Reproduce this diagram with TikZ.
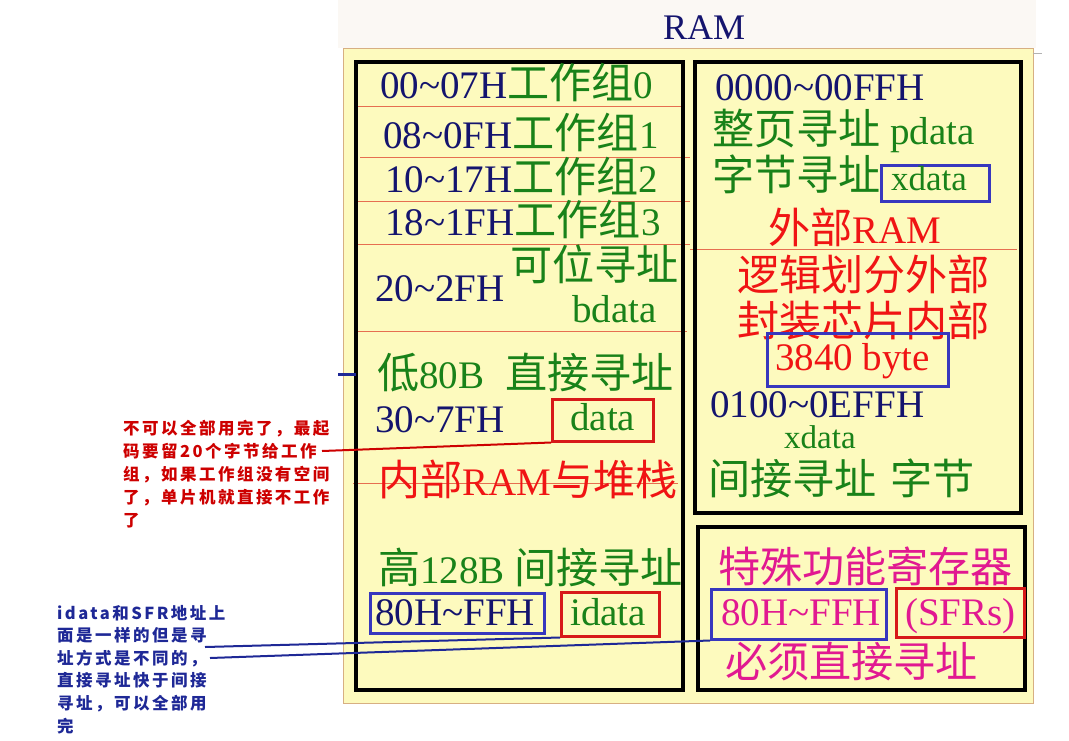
\documentclass[tikz,border=0pt]{standalone}
\usepackage{fontspec}
\setmainfont{Liberation Serif}
\newfontfamily\cjk[Scale=1.08]{Noto Sans CJK SC}
\newfontfamily\annofont[LetterSpace=15]{Noto Sans CJK SC}
\newcommand\zh[1]{{\cjk #1}}
\newcommand\tl{\textasciitilde}
\definecolor{navy}{RGB}{20,20,110}
\definecolor{grn}{RGB}{25,130,25}
\definecolor{rd}{RGB}{240,20,20}
\definecolor{mag}{RGB}{225,25,145}
\definecolor{bboxc}{RGB}{55,55,190}
\definecolor{rboxc}{RGB}{215,25,25}
\definecolor{ylw}{RGB}{253,250,190}
\definecolor{brd}{RGB}{215,175,130}
\definecolor{orl}{RGB}{230,110,80}
\definecolor{annr}{RGB}{205,0,0}
\definecolor{annb}{RGB}{30,40,150}
\definecolor{topbg}{RGB}{251,248,244}
\tikzset{
  t/.style={inner sep=0pt, anchor=base west, font=\fontsize{39}{39}\selectfont},
  blk/.style={draw=black, line width=3.5pt},
  sepline/.style={draw=orl, line width=1pt},
  bx/.style={draw, line width=2.5pt, inner sep=0pt, anchor=north west},
  an/.style={inner sep=0pt, anchor=base west, font=\annofont\fontsize{16.5}{16.5}\bfseries\selectfont},
  conn/.style={line width=2pt}
}
\begin{document}
\begin{tikzpicture}[x=1pt,y=-1pt]
\useasboundingbox (0,0) rectangle (1069,740);
\fill[topbg] (338,0) rectangle (1036,48);
\filldraw[fill=ylw, draw=brd, line width=1pt] (343,48) rectangle (1033,703);
\draw[gray!60, line width=1pt] (1033,53) -- (1042,53);
% separator lines
\draw[sepline] (356,106) -- (683,106);
\draw[sepline] (360,157) -- (690,157);
\draw[sepline] (356,201) -- (690,201);
\draw[sepline] (356,244) -- (690,244);
\draw[sepline] (356,331) -- (687,331);
\draw[sepline] (353,483) -- (678,483);
\draw[sepline] (690,249) -- (1017,249);
% black boxes
\draw[blk] (356,62) rectangle (683,690);
\draw[blk] (695,62) rectangle (1021,513);
\draw[blk] (698,527) rectangle (1025,690);
% blue tick
\draw[annb, line width=3pt] (338,374) -- (356,374);
% title
\node[t, text=navy, font=\fontsize{36}{36}\selectfont] (title) at (663,39) {RAM};
% left box texts
\node[t, text=navy] (r0) at (380,98) {00\tl07H{\color{grn}\zh{工作组}0}};
\node[t, text=navy] (r1) at (383,148) {08\tl0FH{\color{grn}\zh{工作组}1}};
\node[t, text=navy] (r2) at (385,192) {10\tl17H{\color{grn}\zh{工作组}2}};
\node[t, text=navy] (r3) at (385,235) {18\tl1FH{\color{grn}\zh{工作组}3}};
\node[t, text=grn] (kw) at (510,280) {\zh{可位寻址}};
\node[t, text=navy] (r4) at (375,301) {20\tl2FH};
\node[t, text=grn] (bd) at (572,322) {bdata};
\node[t, text=grn] (low) at (377,388) {\zh{低}80B\hspace{21pt}\zh{直接寻址}};
\node[t, text=navy] (r5) at (375,432) {30\tl7FH};
\node[bx, draw=rboxc, minimum width=101pt, minimum height=42pt] (dbox) at (551,398) {};
\node[t, text=grn] (dtxt) at (570,430) {data};
\node[t, text=rd] (inram) at (378,495) {\zh{内部}RAM\zh{与堆栈}};
\node[t, text=grn] (high) at (378,583) {\zh{高}128B \zh{间接寻址}};
\node[bx, draw=bboxc, minimum width=174pt, minimum height=40pt] (hbox) at (369,592) {};
\node[t, text=navy] (htxt) at (375,625) {80H\tl FFH};
\node[bx, draw=rboxc, minimum width=98pt, minimum height=44pt] (ibox) at (560,591) {};
\node[t, text=grn] (itxt) at (570,625) {idata};
% right top box texts
\node[t, text=navy] (x0) at (715,100) {0000\tl00FFH};
\node[t, text=grn] (x1) at (712,144) {\zh{整页寻址} pdata};
\node[t, text=grn] (x2) at (712,190) {\zh{字节寻址}};
\node[bx, draw=bboxc, minimum width=108pt, minimum height=36pt] (xbox) at (880,164) {};
\node[t, text=grn, font=\fontsize{35}{35}\selectfont] (xtxt) at (891,190) {xdata};
\node[t, text=rd] (ext) at (768,243) {\zh{外部}RAM};
\node[t, text=rd] (lg1) at (737,290) {\zh{逻辑划分外部}};
\node[t, text=rd] (lg2) at (737,336) {\zh{封装芯片内部}};
\node[bx, draw=bboxc, minimum width=181pt, minimum height=53pt] (bbox) at (766,332) {};
\node[t, text=rd] (btxt) at (775,370) {3840 byte};
\node[t, text=navy] (x3) at (710,417) {0100\tl0EFFH};
\node[t, text=grn, font=\fontsize{33}{33}\selectfont] (x4) at (784,448) {xdata};
\node[t, text=grn] (x5) at (708,494) {\zh{间接寻址}\hspace{14pt}\zh{字节}};
% right bottom box texts
\node[t, text=mag] (s0) at (718,582) {\zh{特殊功能寄存器}};
\node[bx, draw=bboxc, minimum width=175pt, minimum height=50pt] (sbox) at (710,588) {};
\node[t, text=mag] (stxt) at (721,625) {80H\tl FFH};
\node[bx, draw=rboxc, minimum width=128pt, minimum height=49pt] (fbox) at (895,587) {};
\node[t, text=mag] (ftxt) at (905,625) {(SFRs)};
\node[t, text=mag] (s1) at (725,677) {\zh{必须直接寻址}};
% red annotation
\node[an, text=annr] (ra1) at (123,434) {不可以全部用完了，最起};
\node[an, text=annr] (ra2) at (123,457) {码要留20个字节给工作};
\node[an, text=annr] (ra3) at (123,480) {组，如果工作组没有空间};
\node[an, text=annr] (ra4) at (123,503) {了，单片机就直接不工作};
\node[an, text=annr] (ra5) at (123,526) {了};
% blue annotation
\node[an, text=annb] (ba1) at (57,619) {idata和SFR地址上};
\node[an, text=annb] (ba2) at (57,641.6) {面是一样的但是寻};
\node[an, text=annb] (ba3) at (57,664.2) {址方式是不同的，};
\node[an, text=annb] (ba4) at (57,686.8) {直接寻址快于间接};
\node[an, text=annb] (ba5) at (57,709.4) {寻址，可以全部用};
\node[an, text=annb] (ba6) at (57,732) {完};
% connectors
\coordinate (rs) at (322,451);
\coordinate (bsa) at (205,647);
\coordinate (bsb) at (210,658);
\draw[conn, draw=annr] (rs) -- (dbox.south west);
\draw[conn, draw=annb] (bsa) -- (ibox.south west);
\draw[conn, draw=annb] (bsb) -- (sbox.south west);
\end{tikzpicture}
\end{document}
